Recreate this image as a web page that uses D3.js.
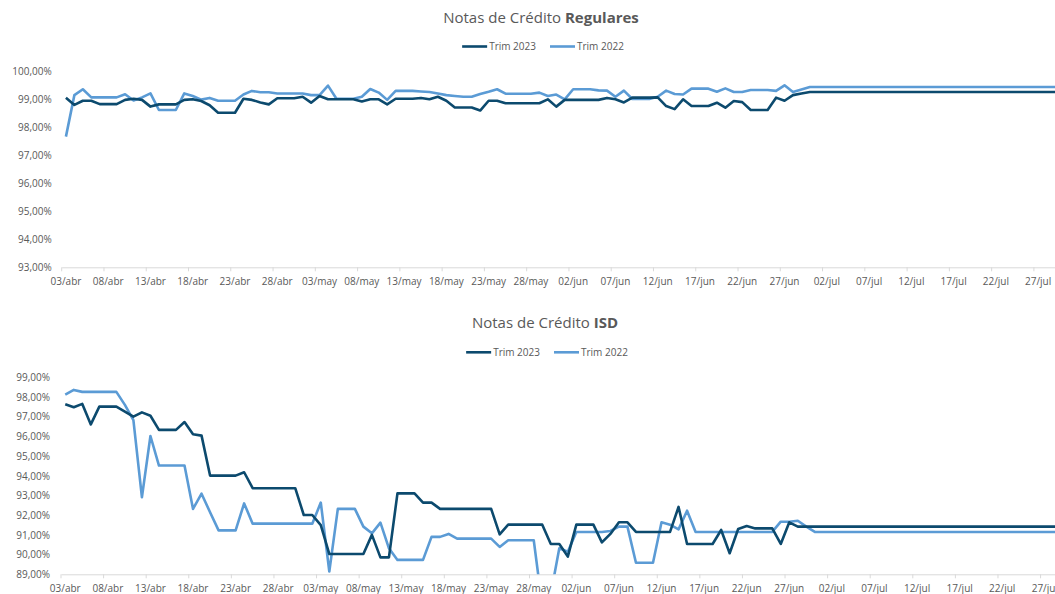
<!DOCTYPE html>
<html>
<head>
<meta charset="utf-8">
<script src="https://cdn.jsdelivr.net/npm/d3@7"></script>
<style>
  body { margin: 0; background: #fff; }
  svg { display: block; font-family: "Open Sans", sans-serif; }
</style>
</head>
<body>
<svg id="chart" width="1055" height="594"></svg>
<script>
// ---- data ----
var seriesNames = ["Trim 2023", "Trim 2022"];
var xTickLabels = ["03/abr","08/abr","13/abr","18/abr","23/abr","28/abr","03/may","08/may","13/may","18/may","23/may","28/may",
                   "02/jun","07/jun","12/jun","17/jun","22/jun","27/jun","02/jul","07/jul","12/jul","17/jul","22/jul","27/jul"];
var regYTicks = [93, 94, 95, 96, 97, 98, 99, 100];
var isdYTicks = [89, 90, 91, 92, 93, 94, 95, 96, 97, 98, 99];

// Notas de Crédito Regulares (% por día, 03/abr .. 31/jul)
var reg2023 = [99.05,98.79,98.94,98.94,98.82,98.82,98.82,98.97,99.01,98.97,98.73,98.81,98.81,98.81,98.97,98.99,98.93,98.78,98.51,98.51,
               98.51,99.01,98.97,98.88,98.81,99.03,99.03,99.03,99.08,98.87,99.11,98.99,98.99,98.99,98.99,98.91,98.99,98.99,98.81,99.01,
               99.01,99.01,99.04,98.99,99.08,98.94,98.70,98.70,98.70,98.59,98.94,98.94,98.85,98.85,98.85,98.85,98.85,98.99,98.73,98.97,
               98.97,98.97,98.97,98.97,99.04,98.99,98.88,99.05,99.05,99.05,99.06,98.75,98.64,98.99,98.75,98.75,98.75,98.87,98.69,98.93,
               98.89,98.61,98.61,98.61,99.05,98.94,99.14,99.20,99.25,99.25,99.25,99.25,99.25,99.25,99.25,99.25,99.25,99.25,99.25,99.25,
               99.25,99.25,99.25,99.25,99.25,99.25,99.25,99.25,99.25,99.25,99.25,99.25,99.25,99.25,99.25,99.25,99.25,99.25,99.25,99.25];
var reg2022 = [97.66,99.14,99.35,99.06,99.06,99.06,99.06,99.17,98.95,99.06,99.20,98.61,98.61,98.61,99.20,99.11,98.98,99.04,98.94,98.94,
               98.94,99.16,99.29,99.24,99.24,99.20,99.20,99.20,99.20,99.14,99.14,99.48,99.01,99.01,99.01,99.08,99.36,99.23,98.97,99.29,
               99.29,99.29,99.27,99.25,99.20,99.14,99.11,99.08,99.08,99.18,99.26,99.35,99.19,99.19,99.19,99.19,99.23,99.11,99.16,98.99,
               99.35,99.35,99.35,99.31,99.30,99.08,99.30,99.00,99.00,99.00,99.08,99.30,99.18,99.16,99.37,99.37,99.37,99.26,99.38,99.25,
               99.25,99.32,99.32,99.32,99.29,99.49,99.25,99.34,99.43,99.43,99.43,99.43,99.43,99.43,99.43,99.43,99.43,99.43,99.43,99.43,
               99.43,99.43,99.43,99.43,99.43,99.43,99.43,99.43,99.43,99.43,99.43,99.43,99.43,99.43,99.43,99.43,99.43,99.43,99.43,99.43];

// Notas de Crédito ISD
var isd2023 = [97.63,97.48,97.65,96.61,97.51,97.51,97.51,97.26,97.00,97.22,97.05,96.33,96.33,96.33,96.73,96.11,96.04,94.01,94.01,94.01,
               94.01,94.18,93.37,93.37,93.37,93.37,93.37,93.37,92.01,92.01,91.50,90.03,90.03,90.03,90.03,90.03,91.00,89.86,89.86,93.11,
               93.11,93.11,92.64,92.64,92.32,92.32,92.32,92.32,92.32,92.32,92.32,91.03,91.52,91.52,91.52,91.52,91.52,90.54,90.54,89.90,
               91.52,91.52,91.52,90.62,91.05,91.64,91.64,91.15,91.15,91.15,91.15,91.15,92.42,90.54,90.54,90.54,90.54,91.25,90.07,91.30,
               91.45,91.33,91.33,91.33,90.54,91.64,91.42,91.42,91.42,91.42,91.42,91.42,91.42,91.42,91.42,91.42,91.42,91.42,91.42,91.42,
               91.42,91.42,91.42,91.42,91.42,91.42,91.42,91.42,91.42,91.42,91.42,91.42,91.42,91.42,91.42,91.42,91.42,91.42,91.42,91.42];
var isd2022 = [98.12,98.36,98.26,98.26,98.26,98.26,98.26,97.60,96.83,92.91,96.02,94.52,94.52,94.52,94.52,92.32,93.09,92.15,91.23,91.23,
               91.23,92.60,91.57,91.57,91.57,91.57,91.57,91.57,91.57,91.57,92.64,89.14,92.32,92.32,92.32,91.42,91.08,91.62,90.32,89.73,
               89.73,89.73,89.73,90.90,90.90,91.05,90.81,90.81,90.81,90.81,90.81,90.39,90.73,90.73,90.73,90.73,87.40,88.00,90.32,90.15,
               91.15,91.15,91.15,91.15,91.20,91.42,91.42,89.59,89.59,89.59,91.64,91.52,91.28,92.23,91.15,91.15,91.15,91.15,91.15,91.15,
               91.15,91.15,91.15,91.15,91.67,91.67,91.72,91.42,91.15,91.15,91.15,91.15,91.15,91.15,91.15,91.15,91.15,91.15,91.15,91.15,
               91.15,91.15,91.15,91.15,91.15,91.15,91.15,91.15,91.15,91.15,91.15,91.15,91.15,91.15,91.15,91.15,91.15,91.15,91.15,91.15];

// categories: one per day
var days = d3.timeDay.range(new Date(2023, 3, 3), new Date(2023, 7, 1));

var colors = ["#0c4a6e", "#5b9bd5"];
var textColor = "#595959";
var axisColor = "#d9d9d9";

var loc = d3.formatLocale({decimal: ",", thousands: ".", grouping: [3], currency: ["", "€"]});
var pct = loc.format(".2f");

var svg = d3.select("#chart");
svg.append("rect").attr("width", 1055).attr("height", 594).attr("fill", "#fff");

function drawPanel(p) {
  var g = svg.append("g");

  var x = d3.scaleBand()
    .domain(days)
    .range([p.left, p.left + p.step * days.length]);
  var y = d3.scaleLinear()
    .domain(p.yDomain)
    .range([p.bottom, p.top]);

  // title
  var title = g.append("text")
    .attr("x", p.cx).attr("y", p.titleY)
    .attr("text-anchor", "middle")
    .attr("fill", textColor)
    .style("font-size", "15px");
  title.append("tspan").text(p.titleA);
  title.append("tspan").attr("font-weight", "bold").text(p.titleB);

  // legend (centered)
  var leg = g.append("g");
  var lx = 0;
  seriesNames.forEach(function(name, k) {
    var it = leg.append("g").attr("transform", "translate(" + lx + ",0)");
    it.append("line").attr("x1", 0).attr("x2", 25).attr("y1", 0).attr("y2", 0)
      .attr("stroke", colors[k]).attr("stroke-width", 2.6);
    var t = it.append("text").attr("x", 27).attr("y", 3.5)
      .attr("fill", textColor).style("font-size", "10px").text(name);
    lx += 27 + t.node().getComputedTextLength() + 14;
  });
  lx -= 14;
  leg.attr("transform", "translate(" + (p.cx + 2 - lx / 2) + "," + p.legendY + ")");

  // y axis labels
  g.append("g")
    .attr("transform", "translate(" + p.left + ",0)")
    .call(d3.axisLeft(y).tickValues(p.yTicks).tickSize(0).tickPadding(p.yPad)
      .tickFormat(function(d) { return pct(d) + "%"; }))
    .call(function(a) {
      a.select(".domain").remove();
      a.selectAll("text").attr("fill", textColor).style("font-size", "10px")
        .style("font-family", "'Open Sans', sans-serif");
    });

  // x axis
  var tickDays = days.filter(function(d, i) { return i % 5 === 0; });
  g.append("g")
    .attr("transform", "translate(0," + p.bottom + ")")
    .call(d3.axisBottom(x).tickValues(tickDays).tickSize(0).tickSizeOuter(0).tickPadding(11)
      .tickFormat(function(d, i) { return xTickLabels[i]; }))
    .call(function(a) {
      a.select(".domain").attr("stroke", axisColor);
      a.selectAll("text").attr("fill", textColor).style("font-size", "10px")
        .style("font-family", "'Open Sans', sans-serif");
    });
  g.append("g").selectAll("line")
    .data(tickDays)
    .enter().append("line")
      .attr("x1", function(d) { return x(d); })
      .attr("x2", function(d) { return x(d); })
      .attr("y1", p.bottom).attr("y2", p.bottom + 4)
      .attr("stroke", axisColor);

  // lines, clipped to plot area
  g.append("clipPath").attr("id", p.id + "clip")
    .append("rect")
      .attr("x", p.left).attr("y", p.top - 10)
      .attr("width", 1055).attr("height", p.bottom - p.top + 10);

  var line = d3.line()
    .x(function(d, i) { return x(days[i]) + x.bandwidth() / 2; })
    .y(function(d) { return y(d); });

  var lines = g.append("g").attr("clip-path", "url(#" + p.id + "clip)");
  [p.data[1], p.data[0]].forEach(function(s, k) {
    lines.append("path")
      .datum(s)
      .attr("fill", "none")
      .attr("stroke", colors[1 - k])
      .attr("stroke-width", 2.6)
      .attr("stroke-linejoin", "round")
      .attr("d", line);
  });
}

drawPanel({
  id: "reg",
  titleA: "Notas de Crédito ", titleB: "Regulares",
  cx: 541, titleY: 23, legendY: 46.5,
  left: 61.7, step: 8.454, top: 71, bottom: 267.3,
  yDomain: [93, 100], yTicks: regYTicks, yPad: 10,
  data: [reg2023, reg2022]
});

drawPanel({
  id: "isd",
  titleA: "Notas de Crédito ", titleB: "ISD",
  cx: 545, titleY: 328, legendY: 352.3,
  left: 61, step: 8.518, top: 377.3, bottom: 574.3,
  yDomain: [89, 99], yTicks: isdYTicks, yPad: 11,
  data: [isd2023, isd2022]
});
</script>
</body>
</html>
